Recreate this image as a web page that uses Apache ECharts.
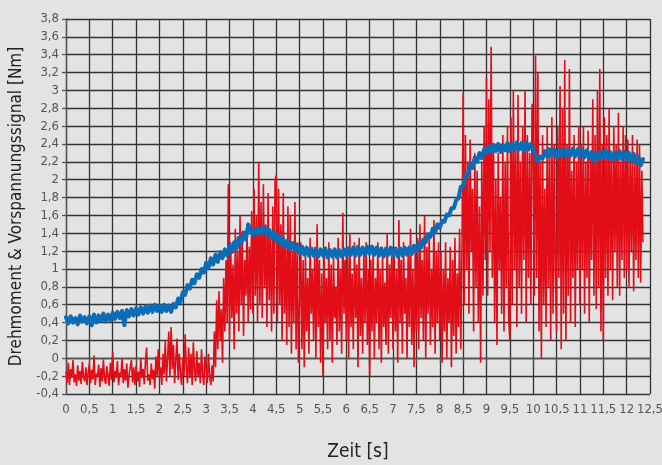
<!DOCTYPE html>
<html>
<head>
<meta charset="utf-8">
<script src="https://cdn.jsdelivr.net/npm/echarts@6/dist/echarts.min.js"></script>
<style>
  html, body { margin: 0; padding: 0; background: #e3e3e3; }
  #chart { width: 662px; height: 465px; }
</style>
</head>
<body>
<div id="chart"></div>
<script>
// Zeitachse: Abtastschritt der beiden Messkurven [s]
const redStep = 0.025
const blueStep = 0.05

// Drehmoment (rot), eine Zeile je 0,5 s
const redValues = [
  -0.15,-0.28,-0.05,-0.3,-0.12,-0.22,-0.02,-0.27,-0.18,-0.31,-0.08,-0.25,-0.14,-0.29,-0.04,-0.21,-0.26,-0.1,-0.3,-0.16,
  -0.06,-0.28,-0.13,-0.24,0.03,-0.3,-0.17,-0.2,-0.07,-0.32,-0.11,-0.26,-0.01,-0.23,-0.29,-0.09,-0.19,-0.31,-0.05,-0.24,
  0.08,-0.27,-0.14,-0.22,-0.03,-0.3,-0.16,-0.21,0.0,-0.28,-0.12,-0.25,-0.06,-0.33,-0.18,-0.2,-0.02,-0.27,-0.1,-0.3,
  -0.08,-0.26,-0.15,-0.32,0.0,-0.22,-0.12,-0.29,-0.04,0.12,-0.25,-0.18,-0.3,-0.06,-0.23,-0.13,-0.34,0.02,-0.2,0.1,
  -0.22,-0.1,-0.3,0.05,-0.18,0.2,-0.26,0.0,0.3,-0.2,0.35,-0.12,0.15,-0.28,-0.02,0.22,-0.24,0.05,-0.16,-0.3,
  0.0,-0.2,0.27,-0.1,-0.28,0.12,-0.22,0.05,-0.3,0.18,-0.14,-0.26,0.08,-0.2,-0.05,-0.28,0.1,-0.18,-0.3,0.02,
  -0.12,-0.28,0.05,-0.2,-0.3,-0.08,-0.26,0.3,-0.1,0.65,0.1,0.75,0.2,0.55,-0.05,0.9,0.3,1.1,0.4,1.95,
  0.2,1.3,0.45,1.05,0.1,1.45,0.5,1.2,0.3,1.6,0.6,1.35,0.25,1.1,0.7,1.5,0.4,1.25,0.55,1.65,
  0.5,1.9,0.7,1.6,0.4,2.2,0.6,1.75,0.45,1.95,0.8,1.5,0.35,1.85,0.65,1.4,0.3,1.7,0.5,2.0,
  2.05,0.4,1.9,0.6,1.5,0.2,1.85,0.5,1.3,0.15,1.7,0.35,1.6,0.05,1.2,0.4,1.75,0.1,1.3,-0.05,
  0.6,1.3,0.1,1.1,-0.1,1.2,0.3,0.9,0.05,1.35,0.5,1.0,0.2,1.25,0.0,1.5,0.35,1.1,-0.05,0.95,
  -0.2,1.2,0.4,0.9,0.1,1.3,0.2,1.05,-0.05,1.15,0.45,0.8,0.15,1.35,0.3,1.0,0.05,1.63,0.5,1.1,
  0.2,1.25,0.0,1.4,0.35,0.95,0.1,1.3,0.45,1.05,-0.1,1.35,0.25,0.9,0.05,1.2,0.4,1.3,0.15,1.0,
  -0.2,1.1,0.3,1.25,0.0,0.9,0.4,1.3,0.1,1.0,-0.05,1.2,0.35,0.85,0.15,1.4,0.05,1.05,0.45,1.25,
  0.1,1.2,0.3,1.0,-0.05,1.55,0.4,1.1,0.05,1.3,0.5,0.9,0.0,1.25,0.35,1.45,0.15,1.0,-0.1,1.2,
  0.3,1.35,0.1,1.5,0.45,1.1,0.2,1.6,0.0,1.25,0.5,1.4,0.15,1.0,0.35,1.55,0.05,1.2,0.4,1.3,
  0.2,1.2,-0.05,1.0,0.3,1.3,0.0,0.9,0.4,1.25,-0.1,1.1,0.25,1.35,0.05,0.95,0.35,1.45,0.1,1.2,
  2.97,0.6,2.5,1.0,2.2,0.5,2.45,1.2,1.9,0.3,2.3,0.8,2.1,0.4,1.7,-0.05,2.2,0.7,2.6,1.1,
  3.15,0.7,2.9,1.2,3.49,0.9,2.4,0.4,2.0,0.15,2.3,1.0,1.8,0.5,2.5,0.3,2.2,0.8,2.6,0.45,
  0.2,2.7,0.6,3.0,1.0,2.4,0.35,2.95,0.8,2.2,0.5,2.6,1.1,3.0,0.4,2.5,0.9,2.3,0.6,2.85,
  2.4,0.7,3.39,0.9,3.2,0.3,2.2,0.0,2.5,0.6,1.9,0.35,2.6,0.8,2.3,0.2,2.7,0.5,2.4,0.9,
  0.3,2.6,0.9,3.05,0.1,2.8,0.5,3.34,0.2,2.4,0.7,3.24,0.4,2.1,0.9,2.5,0.35,2.2,1.0,2.6,
  0.6,2.4,1.0,2.6,0.5,2.2,0.9,2.55,0.4,2.3,1.1,2.9,0.7,2.5,0.55,3.0,0.8,3.24,0.3,2.4,
  0.2,2.7,0.9,2.5,0.7,2.8,1.0,2.3,0.65,2.6,1.2,2.4,0.8,2.75,0.7,2.2,1.1,2.6,0.9,2.5,
  1.0,2.45,0.8,2.3,1.2,2.5,0.75,2.2,1.1,2.45,0.9,2.4,0.85,2.1,1.3
]

// Vorspannungssignal (blau), eine Zeile je 1 s
const blueValues = [
  0.46,0.39,0.47,0.40,0.45,0.38,0.48,0.41,0.46,0.39,0.47,0.37,0.49,0.40,0.48,0.42,0.50,0.41,0.49,0.43,
  0.51,0.44,0.52,0.45,0.53,0.37,0.54,0.47,0.55,0.48,0.56,0.49,0.57,0.50,0.58,0.51,0.59,0.52,0.60,0.53,
  0.59,0.52,0.60,0.53,0.59,0.52,0.61,0.57,0.67,0.63,0.74,0.71,0.82,0.78,0.88,0.84,0.94,0.90,1.00,0.96,
  1.07,1.01,1.12,1.05,1.16,1.08,1.19,1.12,1.22,1.15,1.26,1.19,1.30,1.23,1.35,1.28,1.41,1.33,1.50,1.44,
  1.38,1.45,1.39,1.46,1.40,1.47,1.38,1.44,1.35,1.42,1.31,1.38,1.27,1.34,1.25,1.32,1.22,1.29,1.21,1.27,
  1.18,1.25,1.16,1.24,1.15,1.23,1.15,1.22,1.14,1.22,1.15,1.23,1.13,1.21,1.14,1.22,1.13,1.21,1.14,1.22,
  1.15,1.23,1.16,1.24,1.15,1.25,1.16,1.24,1.16,1.25,1.17,1.25,1.16,1.24,1.15,1.23,1.14,1.23,1.16,1.24,
  1.15,1.23,1.14,1.23,1.15,1.24,1.16,1.24,1.17,1.26,1.20,1.29,1.24,1.33,1.30,1.39,1.36,1.45,1.41,1.50,
  1.46,1.54,1.53,1.61,1.60,1.68,1.68,1.77,1.79,1.92,1.92,2.06,2.04,2.17,2.13,2.25,2.20,2.30,2.24,2.34,
  2.30,2.38,2.31,2.39,2.32,2.40,2.31,2.39,2.33,2.41,2.32,2.40,2.33,2.42,2.34,2.41,2.32,2.42,2.34,2.40,
  2.34,2.27,2.20,2.26,2.24,2.32,2.26,2.34,2.27,2.34,2.25,2.33,2.27,2.35,2.26,2.33,2.27,2.35,2.26,2.34,
  2.27,2.34,2.25,2.33,2.24,2.31,2.21,2.30,2.23,2.32,2.25,2.33,2.24,2.31,2.22,2.30,2.24,2.32,2.23,2.31,
  2.22,2.30,2.21,2.29,2.19,2.26,2.16,2.23
]

// Achsbeschriftungen
const xTickLabels = ['0','0,5','1','1,5','2','2,5','3','3,5','4','4,5','5','5,5','6','6,5','7','7,5','8','8,5','9','9,5','10','10,5','11','11,5','12','12,5']
const yTickLabels = ['-0,4','-0,2','0','0,2','0,4','0,6','0,8','1','1,2','1,4','1,6','1,8','2','2,2','2,4','2,6','2,8','3','3,2','3,4','3,6','3,8']

const font = "'Liberation Sans Narrow', 'DejaVu Sans Condensed', sans-serif"

const toPairs = (values, step) => values.map((v, i) => [+(i * step).toFixed(3), v])

const chart = echarts.init(document.getElementById('chart'))

const option = {
  animation: false,
  backgroundColor: '#e3e3e3',
  grid: { left: 66, right: 12, top: 19, bottom: 71, outerBoundsMode: 'none' },
  xAxis: {
    type: 'value',
    min: 0,
    max: 12.5,
    interval: 0.5,
    name: 'Zeit [s]',
    nameLocation: 'middle',
    nameGap: 49,
    nameTextStyle: { fontFamily: font, fontSize: 19, color: '#222' },
    axisLine: { lineStyle: { color: '#555', width: 1.3 } },
    axisTick: { length: 5, lineStyle: { color: '#555', width: 1.3 } },
    axisLabel: {
      margin: 9,
      fontFamily: font,
      fontSize: 13,
      color: '#555',
      formatter: (v) => xTickLabels[Math.round(v / 0.5)]
    },
    splitLine: { lineStyle: { color: '#333', width: 1.3 } }
  },
  yAxis: {
    type: 'value',
    min: -0.4,
    max: 3.8,
    interval: 0.2,
    name: 'Drehmoment & Vorspannungssignal [Nm]',
    nameLocation: 'middle',
    nameGap: 38,
    nameTextStyle: { fontFamily: font, fontSize: 17, color: '#222' },
    axisLine: { show: true, lineStyle: { color: '#555', width: 1.3 } },
    axisTick: { show: true, length: 4, lineStyle: { color: '#555', width: 1.3 } },
    axisLabel: {
      margin: 7,
      fontFamily: font,
      fontSize: 13,
      color: '#555',
      formatter: (v) => yTickLabels[Math.round((v + 0.4) / 0.2)]
    },
    splitLine: { lineStyle: { color: '#333', width: 1.3 } }
  },
  series: [
    {
      name: 'Drehmoment',
      type: 'line',
      data: toPairs(redValues, redStep),
      showSymbol: false,
      sampling: false,
      lineStyle: { color: '#e30d17', width: 1.6 },
      z: 2
    },
    {
      name: 'Vorspannungssignal',
      type: 'line',
      data: toPairs(blueValues, blueStep),
      showSymbol: false,
      lineStyle: { color: '#0a6db6', width: 4, join: 'round', cap: 'round' },
      z: 3
    }
  ]
}

chart.setOption(option)
</script>
</body>
</html>
